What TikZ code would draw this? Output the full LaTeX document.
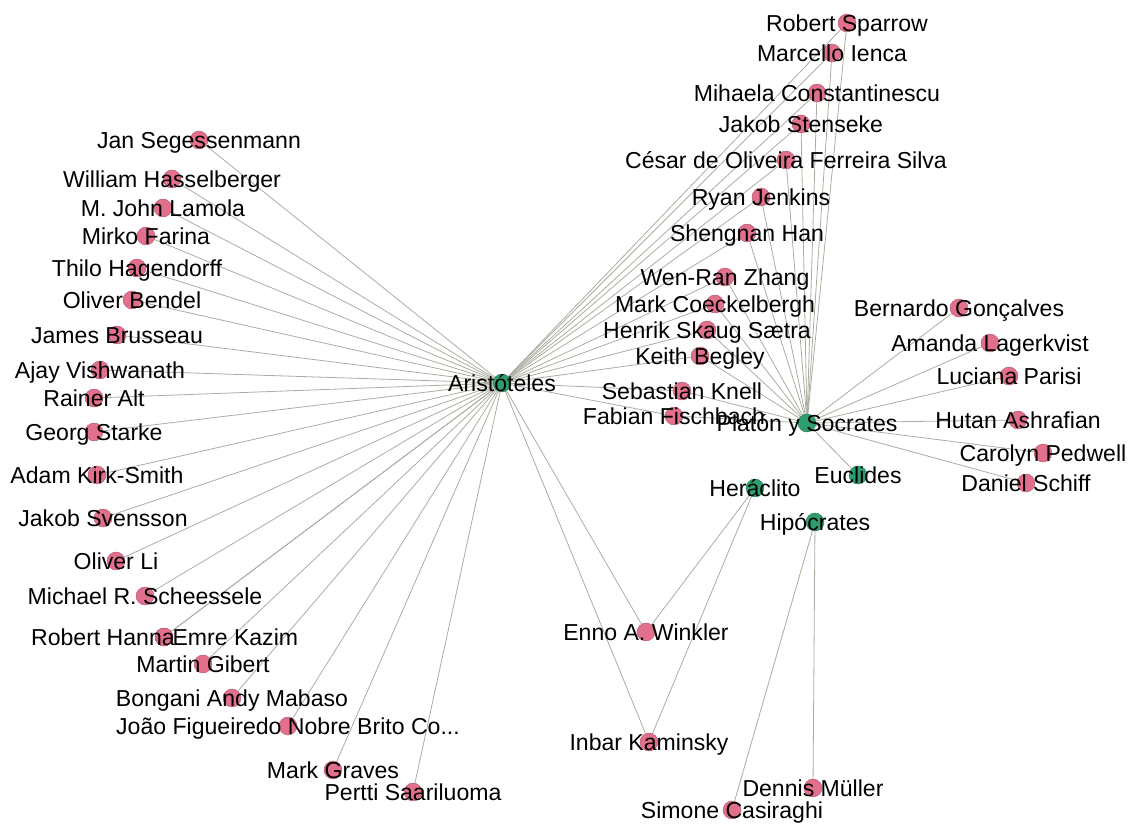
\documentclass[tikz,border=0pt]{standalone}
\usepackage{fontspec}
\usepackage{xcolor}
\usepackage{tikz}
\usetikzlibrary{backgrounds}
\newfontfamily\namefont{Liberation Sans}
\definecolor{authorpink}{RGB}{226,112,140}
\definecolor{thinkergreen}{RGB}{46,158,110}
\definecolor{linkgrey}{RGB}{172,172,160}

\begin{document}
\begin{tikzpicture}[x=0.75pt,y=-0.75pt,
  author/.style={circle,fill=authorpink,draw=authorpink!80!black,line width=0.35pt,minimum size=13.4pt,inner sep=0pt},
  thinker/.style={author,fill=thinkergreen,draw=thinkergreen!80!black},
  nametag/.style={font=\namefont\fontsize{17.3}{20}\selectfont,inner sep=0pt,text height=12.3pt,text depth=0pt},
  link/.style={draw=linkgrey,line width=0.6pt}]
\useasboundingbox (0,0) rectangle (1132,825);
% the five thinkers
\node[thinker,label={[nametag]center:Aristóteles}] (aristoteles) at (502,383) {};
\node[thinker,label={[nametag]center:Platón y Socrates}] (platon) at (807,423) {};
\node[thinker,label={[nametag]center:Euclides}] (euclides) at (858,475) {};
\node[thinker,label={[nametag]center:Heráclito}] (heraclito) at (755,488) {};
\node[thinker,label={[nametag]center:Hipócrates}] (hipocrates) at (815,522) {};
% left fan
\node[author,label={[nametag]center:Jan Segessenmann}] (segessenmann) at (199,140) {};
\node[author,label={[nametag]center:William Hasselberger}] (hasselberger) at (172,179) {};
\node[author,label={[nametag]center:M. John Lamola}] (lamola) at (163,208) {};
\node[author,label={[nametag]center:Mirko Farina}] (farina) at (146,236) {};
\node[author,label={[nametag]center:Thilo Hagendorff}] (hagendorff) at (137,268) {};
\node[author,label={[nametag]center:Oliver Bendel}] (bendel) at (132,300) {};
\node[author,label={[nametag]center:James Brusseau}] (brusseau) at (117,335) {};
\node[author,label={[nametag]center:Ajay Vishwanath}] (vishwanath) at (100,370) {};
\node[author,label={[nametag]center:Rainer Alt}] (alt) at (94,398) {};
\node[author,label={[nametag]center:Georg Starke}] (starke) at (94,432) {};
\node[author,label={[nametag]center:Adam Kirk-Smith}] (kirksmith) at (97,475) {};
\node[author,label={[nametag]center:Jakob Svensson}] (svensson) at (103,518) {};
\node[author,label={[nametag]center:Oliver Li}] (li) at (116,561) {};
\node[author,label={[nametag]center:Michael R. Scheessele}] (scheessele) at (145,596) {};
\node[author,label={[nametag,xshift=53.5pt]center:Emre Kazim}] (kazim) at (164,637) {};
\node[author,label={[nametag,xshift=-45.8pt]center:Robert Hanna}] (hanna) at (164,637) {};
\node[author,label={[nametag]center:Martin Gibert}] (gibert) at (203,664) {};
\node[author,label={[nametag]center:Bongani Andy Mabaso}] (mabaso) at (232,698) {};
\node[author,label={[nametag]center:João Figueiredo Nobre Brito Co...}] (joao) at (288,726) {};
\node[author,label={[nametag]center:Mark Graves}] (graves) at (333,770) {};
\node[author,label={[nametag]center:Pertti Saariluoma}] (saariluoma) at (413,792) {};
% shared by Aristoteles and Platon
\node[author,label={[nametag]center:Robert Sparrow}] (sparrow) at (847,23) {};
\node[author,label={[nametag]center:Marcello Ienca}] (ienca) at (832,53) {};
\node[author,label={[nametag]center:Mihaela Constantinescu}] (constantinescu) at (817,93) {};
\node[author,label={[nametag]center:Jakob Stenseke}] (stenseke) at (801,124) {};
\node[author,label={[nametag]center:César de Oliveira Ferreira Silva}] (cesar) at (786,160) {};
\node[author,label={[nametag]center:Ryan Jenkins}] (jenkins) at (761,197) {};
\node[author,label={[nametag]center:Shengnan Han}] (han) at (747,233) {};
\node[author,label={[nametag]center:Wen-Ran Zhang}] (zhang) at (725,277) {};
\node[author,label={[nametag]center:Mark Coeckelbergh}] (coeckelbergh) at (715,304) {};
\node[author,label={[nametag]center:Henrik Skaug Sætra}] (saetra) at (707,330) {};
\node[author,label={[nametag]center:Keith Begley}] (begley) at (700,356) {};
\node[author,label={[nametag]center:Sebastian Knell}] (knell) at (682,391) {};
\node[author,label={[nametag]center:Fabian Fischbach}] (fischbach) at (674,416) {};
% right fan
\node[author,label={[nametag]center:Bernardo Gonçalves}] (goncalves) at (959,308) {};
\node[author,label={[nametag]center:Amanda Lagerkvist}] (lagerkvist) at (990,343) {};
\node[author,label={[nametag]center:Luciana Parisi}] (parisi) at (1009,376) {};
\node[author,label={[nametag]center:Hutan Ashrafian}] (ashrafian) at (1018,420) {};
\node[author,label={[nametag]center:Carolyn Pedwell}] (pedwell) at (1043,453) {};
\node[author,label={[nametag]center:Daniel Schiff}] (schiff) at (1026,483) {};
% bottom
\node[author,label={[nametag]center:Enno A. Winkler}] (winkler) at (646,632) {};
\node[author,label={[nametag]center:Inbar Kaminsky}] (kaminsky) at (649,742) {};
\node[author,label={[nametag]center:Dennis Müller}] (muller) at (813,788) {};
\node[author,label={[nametag]center:Simone Casiraghi}] (casiraghi) at (732,810) {};

\begin{scope}[on background layer]
\foreach \p in {segessenmann,hasselberger,lamola,farina,hagendorff,bendel,brusseau,vishwanath,alt,starke,kirksmith,svensson,li,scheessele,hanna,kazim,gibert,mabaso,joao,graves,saariluoma,winkler,kaminsky}
  \draw[link] (aristoteles) -- (\p);
\foreach \p in {sparrow,ienca,constantinescu,stenseke,cesar,jenkins,han,zhang,coeckelbergh,saetra,begley,knell,fischbach}
  {\draw[link] (aristoteles) -- (\p);
   \draw[link] (platon) -- (\p);}
\foreach \p in {goncalves,lagerkvist,parisi,ashrafian,pedwell,schiff,euclides}
  \draw[link] (platon) -- (\p);
\draw[link] (heraclito) -- (winkler);
\draw[link] (heraclito) -- (kaminsky);
\draw[link] (hipocrates) -- (muller);
\draw[link] (hipocrates) -- (casiraghi);
\end{scope}
\end{tikzpicture}
\end{document}
